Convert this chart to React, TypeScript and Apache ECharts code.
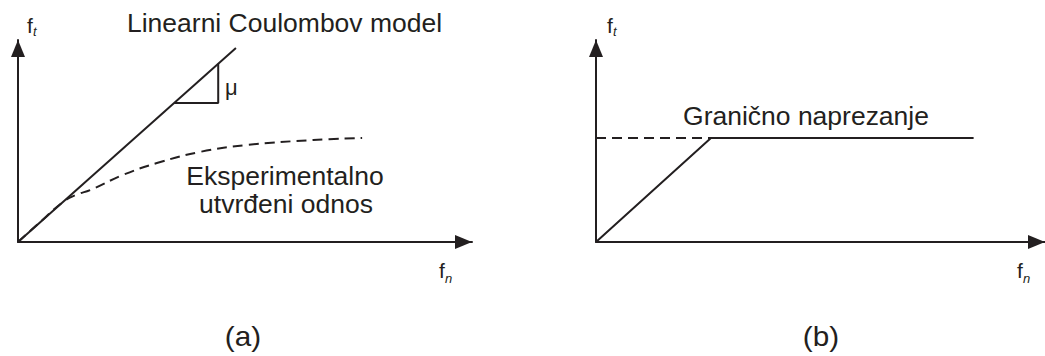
import React, { useEffect, useRef } from "react";
import * as echarts from "echarts";

// Panel (a): linear Coulomb friction law and the experimentally observed relation
const coulombLine: number[][] = [
  [0, 0],
  [48, 96],
];
// slope marker triangle drawn under the Coulomb line
const muTriangle: number[][] = [
  [34.4, 68.8],
  [44.1, 68.8],
  [44.1, 88.2],
];
const experimentalCurve: number[][] = [
  [0, 0],
  [4.4, 8.9],
  [9.9, 19.8],
  [12.8, 23.4],
  [15.9, 25.7],
  [23.1, 33.2],
  [30.6, 39.1],
  [40.1, 44.6],
  [50.4, 48.0],
  [65.0, 50.5],
  [75.8, 51.5],
];

// Panel (b): limit stress model
const limitStressLevel = 51.5;
const limitDashed: number[][] = [
  [0, limitStressLevel],
  [25.6, limitStressLevel],
];
const limitSolid: number[][] = [
  [0, 0],
  [25.6, limitStressLevel],
  [84.1, limitStressLevel],
];

const INK = "#231f20";
const FONT = "'Liberation Sans', Arial, Helvetica, sans-serif";

function axisPair(gridIndex: number) {
  const line = {
    show: true,
    symbol: ["none", "triangle"],
    symbolSize: [14, 17],
    symbolOffset: [0, -8.5],
    lineStyle: { color: INK, width: 2 },
  };
  const common = {
    type: "value" as const,
    gridIndex,
    min: 0,
    max: 100,
    axisLine: line,
    axisTick: { show: false },
    axisLabel: { show: false },
    splitLine: { show: false },
  };
  return { x: { ...common }, y: { ...common } };
}

function text(
  str: string,
  x: number,
  y: number,
  opts: { size?: number; align?: string; italic?: boolean; stretch?: number } = {}
) {
  return {
    type: "text",
    x,
    y,
    scaleX: opts.stretch ?? 1,
    silent: true,
    style: {
      text: str,
      fill: INK,
      font: `${opts.italic ? "italic " : ""}${opts.size ?? 25}px ${FONT}`,
      textAlign: opts.align ?? "left",
      textVerticalAlign: "middle",
    },
  };
}

function lineSeries(
  data: number[][],
  idx: number,
  opts: { width?: number; dashed?: boolean; smooth?: number | boolean } = {}
) {
  return {
    type: "line",
    xAxisIndex: idx,
    yAxisIndex: idx,
    data,
    symbol: "none",
    smooth: opts.smooth ?? false,
    lineStyle: {
      color: INK,
      width: opts.width ?? 2,
      type: opts.dashed ? [10, 6] : "solid",
      cap: "butt",
    },
    z: 3,
  };
}

export default function App() {
  const ref = useRef<HTMLDivElement>(null);

  useEffect(() => {
    if (!ref.current) return;
    const chart = echarts.init(ref.current, undefined, { renderer: "svg" });
    const a = axisPair(0);
    const b = axisPair(1);
    const wide = 1.06;

    chart.setOption({
      animation: false,
      backgroundColor: "#ffffff",
      grid: [
        { left: 18, top: 40, width: 454, height: 202 },
        { left: 596, top: 40, width: 454, height: 202 },
      ],
      xAxis: [a.x, b.x],
      yAxis: [a.y, b.y],
      series: [
        lineSeries(coulombLine, 0, { width: 2 }),
        lineSeries(muTriangle, 0, { width: 2 }),
        lineSeries(experimentalCurve, 0, { width: 2, dashed: true, smooth: 0.4 }),
        lineSeries(limitDashed, 1, { width: 2, dashed: true }),
        lineSeries(limitSolid, 1, { width: 2 }),
      ],
      graphic: [
        // panel (a)
        text("f", 27, 25.6, { size: 21 }),
        text("t", 33, 31.5, { size: 13, italic: true }),
        text("Linearni Coulombov model", 127, 23.3, { stretch: wide }),
        text("μ", 225, 87, { size: 22 }),
        text("Eksperimentalno", 285, 176.3, { align: "center", stretch: wide }),
        text("utvrđeni odnos", 286, 204.3, { align: "center", stretch: wide }),
        text("f", 439, 270.6, { size: 21 }),
        text("n", 445, 278.5, { size: 13, italic: true }),
        text("(a)", 243, 336, { align: "center", size: 27, stretch: 1.1 }),
        // panel (b)
        text("f", 607, 25.6, { size: 21 }),
        text("t", 613, 31.5, { size: 13, italic: true }),
        text("Granično naprezanje", 806, 116.3, { align: "center", stretch: wide }),
        text("f", 1017, 270.6, { size: 21 }),
        text("n", 1023, 278.5, { size: 13, italic: true }),
        text("(b)", 821, 336, { align: "center", size: 27, stretch: 1.1 }),
      ],
    });

    return () => chart.dispose();
  }, []);

  return (
    <div
      ref={ref}
      style={{ position: "absolute", left: 0, top: 0, width: 1045, height: 356 }}
    />
  );
}
